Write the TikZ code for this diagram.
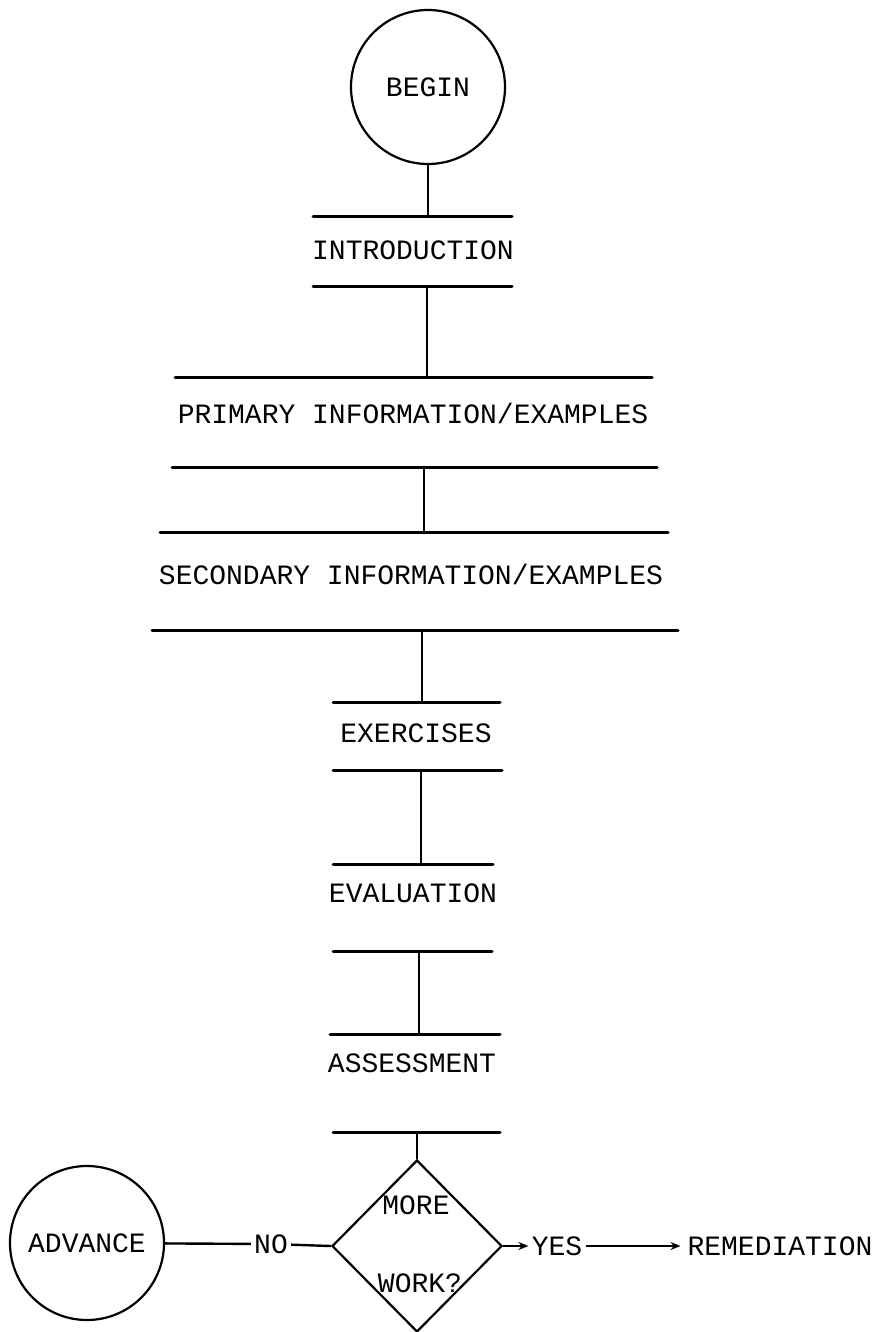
\documentclass[tikz,border=0pt]{standalone}
\usepackage{fontspec}
\setmonofont{Liberation Mono}
\usetikzlibrary{shapes.geometric,arrows.meta}

\begin{document}
\begin{tikzpicture}[x=0.5pt,y=-0.5pt,
		every node/.style={font=\ttfamily\fontsize{14}{16}\selectfont},
		bar/.style={line width=1.5pt, line cap=round},
		link/.style={line width=1.2pt},
		terminal/.style={circle, draw, line width=1.1pt, minimum size=77pt, inner sep=0pt},
		decision/.style={diamond, draw, line width=1.1pt, minimum width=85pt,
		minimum height=86pt, inner sep=0pt},
		answer/.style={inner sep=1.5pt},
		flow/.style={link, -{Stealth[length=5pt,width=4pt]}},
		]

		\useasboundingbox (0,0) rectangle (886,1332);

		% start
		\node[terminal] (begin) at (428,87) {BEGIN};

		% stages, each one text between two bars
		\draw[bar] (313,217) -- (512,217);
		\node (intro) at (413,250) {INTRODUCTION};
		\draw[bar] (313,286) -- (512,286);
		\coordinate (intro-t) at (428,217);
		\coordinate (intro-b) at (427,286);

		\draw[bar] (175,377) -- (652,377);
		\node (prim) at (413,413) {PRIMARY INFORMATION/EXAMPLES};
		\draw[bar] (172,467) -- (657,467);
		\coordinate (prim-t) at (427,377);
		\coordinate (prim-b) at (424,467);

		\draw[bar] (160,532) -- (668,532);
		\node (sec) at (411,574) {SECONDARY INFORMATION/EXAMPLES};
		\draw[bar] (152,630) -- (678,630);
		\coordinate (sec-t) at (424,532);
		\coordinate (sec-b) at (422,630);

		\draw[bar] (333,702) -- (500,702);
		\node (exer) at (416,733) {EXERCISES};
		\draw[bar] (333,770) -- (502,770);
		\coordinate (exer-t) at (422,702);
		\coordinate (exer-b) at (421,770);

		\draw[bar] (333,864) -- (493,864);
		\node (eval) at (413,893) {EVALUATION};
		\draw[bar] (333,951) -- (492,951);
		\coordinate (eval-t) at (421,864);
		\coordinate (eval-b) at (419,951);

		\draw[bar] (330,1034) -- (500,1034);
		\node (assess) at (412,1063) {ASSESSMENT};
		\draw[bar] (333,1132) -- (500,1132);
		\coordinate (assess-t) at (419,1034);
		\coordinate (assess-b) at (417,1132);

		% decision and its outcomes
		\node[decision] (more) at (417,1246) {};
		\node (more-a) at (416,1205) {MORE};
		\node (more-b) at (420,1283) {WORK?};
		\node[terminal] (adv) at (87,1243) {ADVANCE};
		\node[answer] (no) at (271,1244) {NO};
		\node[answer] (yes) at (557,1246) {YES};
		\node (remed) at (780,1246) {REMEDIATION};

		% connectors
		\draw[link] (begin) -- (intro-t);
		\draw[link] (intro-b) -- (prim-t);
		\draw[link] (prim-b) -- (sec-t);
		\draw[link] (sec-b) -- (exer-t);
		\draw[link] (exer-b) -- (eval-t);
		\draw[link] (eval-b) -- (assess-t);
		\draw[link] (assess-b) -- (more.north);

		\draw[link] (adv) -- (no);
		\draw[link] (no) -- (more.west);
		\draw[flow] (more.east) -- (yes);
		\draw[flow] (yes) -- (remed);

	\end{tikzpicture}
\end{document}
